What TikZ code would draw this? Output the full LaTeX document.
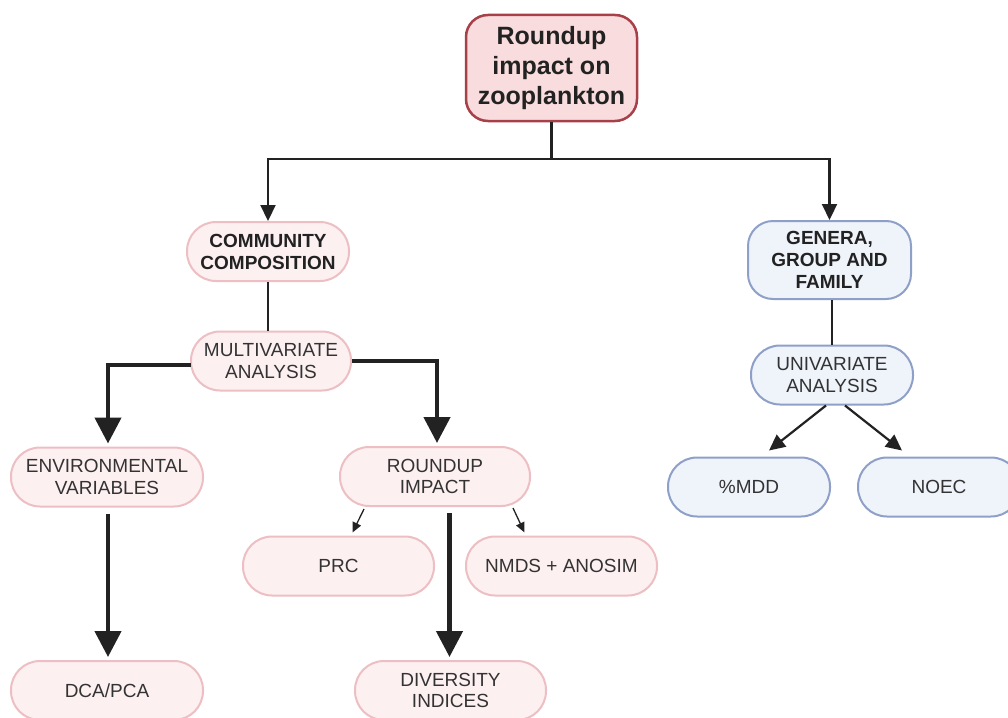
\documentclass[tikz,border=0pt]{standalone}
\usepackage{fontspec}
\setmainfont{Liberation Sans}
\usetikzlibrary{arrows.meta,calc}
\definecolor{ink}{HTML}{222222}
\definecolor{txt}{HTML}{333333}
\definecolor{rootfill}{HTML}{F9DCDD}
\definecolor{rootedge}{HTML}{A8404A}
\definecolor{pinkfill}{HTML}{FDF0F1}
\definecolor{pinkedge}{HTML}{EDBFC3}
\definecolor{bluefill}{HTML}{EFF3FA}
\definecolor{blueedge}{HTML}{8FA0C8}
\begin{document}
\begin{tikzpicture}[x=1pt,y=-1pt,
  box/.style={line width=2pt, inner sep=0pt, align=center, minimum height=59pt,
    rounded corners=29pt, text=txt, font=\fontsize{19}{21.5}\selectfont},
  pinkbox/.style={box, draw=pinkedge, fill=pinkfill, minimum width=#1},
  bluebox/.style={box, draw=blueedge, fill=bluefill, minimum width=#1},
  boldtext/.style={text=ink, font=\fontsize{19}{22}\selectfont\bfseries},
  link/.style={draw=ink, line width=2.2pt},
  medarrow/.style={link, -{Triangle[length=16pt,width=15pt]}},
  heavyarrow/.style={draw=ink, line width=4.5pt, -{Triangle[length=26pt,width=26pt]}, shorten >=3pt},
  lightarrow/.style={draw=ink, line width=1.3pt, -{Triangle[length=10pt,width=9pt]}},
  slimarrow/.style={draw=ink, line width=2.2pt, -{Triangle[length=16pt,width=15pt]}}]

\useasboundingbox[fill=white] (0,0) rectangle (1008,717);

% top level
\node[draw=rootedge, fill=rootfill, line width=2.5pt, rounded corners=22pt,
  minimum width=171pt, minimum height=106pt, inner sep=0pt, align=center,
  text=ink, font=\fontsize{25}{30}\selectfont\bfseries] (root) at (551.5,68) {Roundup\\impact on\\zooplankton};

% left branch
\node[pinkbox=162pt, boldtext] (comm) at (268,251.5) {COMMUNITY\\COMPOSITION};
\node[pinkbox=160pt] (multi) at (271,361) {MULTIVARIATE\\ANALYSIS};
\node[pinkbox=192pt] (env) at (107,477) {ENVIRONMENTAL\\VARIABLES};
\node[pinkbox=190pt] (rimp) at (435,476.5) {ROUNDUP\\IMPACT};
\node[pinkbox=191pt] (prc) at (338.5,566) {PRC};
\node[pinkbox=191pt] (nmds) at (561.5,566) {NMDS + ANOSIM};
\node[pinkbox=192pt] (dca) at (107,690.5) {DCA/PCA};
\node[pinkbox=191pt] (div) at (450.5,690.5) {DIVERSITY\\INDICES};

% right branch
\node[bluebox=163pt, minimum height=78pt, rounded corners=25pt, boldtext] (gen) at (829.5,260) {GENERA,\\GROUP AND\\FAMILY};
\node[bluebox=162pt] (univ) at (832,375) {UNIVARIATE\\ANALYSIS};
\node[bluebox=162pt] (mdd) at (749,487) {\%MDD};
\node[bluebox=162pt] (noec) at (939,487) {NOEC};

% connectors
\draw[medarrow] (root.south) -- ++(0,37) -| (comm.north);
\draw[medarrow] (root.south) -- ++(0,37) -| (gen.north);
\draw[link] (comm.south) -- (comm.south |- multi.north);
\draw[heavyarrow] ($(multi.west)+(1,4)$) -| ($(env.north)+(1,0)$);
\draw[heavyarrow] (multi.east) -| ($(rimp.north)+(2,0)$);
\draw[heavyarrow] ($(env.south)+(1,6)$) -- ($(dca.north)+(1,0)$);
\draw[heavyarrow] ($(rimp.south -| div.north)+(-1,6)$) -- ($(div.north)+(-1,0)$);
\draw[lightarrow] ($(rimp.south)+(-71,2)$) -- ($(prc.north)+(14,-3)$);
\draw[lightarrow] ($(rimp.south)+(78,1)$) -- ($(nmds.north)+(-37,-3)$);
\draw[link] (gen.south -| univ.north) -- (univ.north);
\draw[slimarrow] ($(univ.south)+(-6,0)$) -- ($(mdd.north)+(20,-6)$);
\draw[slimarrow] ($(univ.south)+(13,0)$) -- ($(noec.north)+(-37,-6)$);
\end{tikzpicture}
\end{document}
